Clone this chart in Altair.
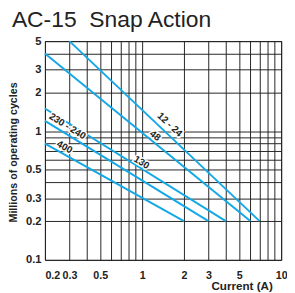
import altair as alt
import pandas as pd

series = ["12 - 24", "48", "130", "230 - 240", "400"]
x_start = [0.3, 0.2, 0.2, 0.2, 0.2]
y_start = [5.0, 4.0, 1.5, 1.2, 0.8]
x_end = [7.0, 6.0, 4.0, 3.0, 2.0]
y_end = [0.2, 0.2, 0.2, 0.2, 0.2]

label_text = ["12 - 24", "48", "130", "230 - 240", "400"]
label_x = [1.58, 1.24, 0.99, 0.29, 0.277]
label_y = [1.12, 0.92, 0.57, 1.09, 0.75]
label_angle = [43, 39, 32, 32, 29]

x_grid = [0.2, 0.3, 0.4, 0.5, 0.6, 0.7, 0.8, 0.9, 1, 2, 3, 4, 5, 6, 7, 8, 9, 10]
y_grid = [0.1, 0.2, 0.3, 0.4, 0.5, 0.6, 0.7, 0.8, 0.9, 1, 2, 3, 4, 5]
x_labels = [0.2, 0.3, 0.5, 1, 2, 3, 5, 10]
y_labels = [0.1, 0.2, 0.3, 0.5, 1, 2, 3, 5]

rows = []
for s, xs, ys, xe, ye in zip(series, x_start, y_start, x_end, y_end):
    rows.append({"s": s, "x": xs, "y": ys, "o": 0})
    rows.append({"s": s, "x": xe, "y": ye, "o": 1})
lines_df = pd.DataFrame(rows)
labels_df = pd.DataFrame({"t": label_text, "x": label_x, "y": label_y, "a": label_angle})

xl = ",".join(str(v) for v in x_labels)
yl = ",".join(str(v) for v in y_labels)

xscale = alt.Scale(type="log", domain=[0.2, 10], nice=False)
yscale = alt.Scale(type="log", domain=[0.1, 5], nice=False)

xaxis = alt.Axis(
    values=x_grid, grid=True, ticks=False, domain=False, format="~g",
    labelExpr=f"indexof([{xl}], datum.value) >= 0 ? datum.label : ''",
    labelFont="Liberation Sans", labelFontWeight="bold", labelFontSize=11, labelColor="#222",
    labelPadding=10, labelAlign={"condition": {"test": "datum.value <= 0.2", "value": "left"}, "value": "center"},
    gridColor="#222", gridOpacity=1, gridWidth=1,
    title="Current (A)", titleFont="Liberation Sans", titleFontWeight="bold", titleFontSize=12,
    titleColor="#222", titleAlign="right", titleAnchor="end", titleX=234, titleY=30, titleBaseline="alphabetic",
    labelOverlap=False,
)
yaxis = alt.Axis(
    values=y_grid, grid=True, ticks=False, domain=False, format="~g",
    labelExpr=f"indexof([{yl}], datum.value) >= 0 ? datum.label : ''",
    labelFont="Liberation Sans", labelFontWeight="bold", labelFontSize=11.5, labelColor="#222",
    labelPadding=4, labelBaseline="middle",
    gridColor="#222", gridOpacity=1, gridWidth=1,
    title="Millions of operating cycles", titleFont="Liberation Sans", titleFontWeight="bold",
    titleFontSize=11, titleColor="#222", titleAngle=-90, titleX=-32, titleY=114,
    titleAlign="center", titleBaseline="middle",
    labelOverlap=False,
)

lines = alt.Chart(lines_df).mark_line(color="#14a8e6", strokeWidth=2, clip=False).encode(
    x=alt.X("x:Q", scale=xscale, axis=xaxis),
    y=alt.Y("y:Q", scale=yscale, axis=yaxis),
    detail="s:N",
    order="o:Q",
)

halo = alt.Chart(labels_df).mark_text(
    font="Liberation Sans", fontWeight="bold", fontSize=10, stroke="white", strokeWidth=3, color="white"
).encode(
    x=alt.X("x:Q", scale=xscale), y=alt.Y("y:Q", scale=yscale), text="t:N",
    angle=alt.Angle("a:Q", scale=None),
)
texts = alt.Chart(labels_df).mark_text(
    font="Liberation Sans", fontWeight="bold", fontSize=10, color="#222"
).encode(
    x=alt.X("x:Q", scale=xscale), y=alt.Y("y:Q", scale=yscale), text="t:N",
    angle=alt.Angle("a:Q", scale=None),
)

chart = alt.layer(lines, halo, texts).properties(
    width=243, height=225,
    autosize=alt.AutoSizeParams(type="none"),
    padding={"left": 38, "top": 30, "right": 6, "bottom": 30},
    title=alt.TitleParams(
        "AC-15\u00a0\u00a0Snap Action", font="Liberation Sans", fontSize=23.5, fontWeight="normal",
        color="#222", anchor="start", frame="group", dx=-34, dy=21, offset=6, baseline="alphabetic",
    ),
).configure_view(stroke="#222", strokeWidth=1)

chart.save("out.html", embed_options={"renderer": "svg", "actions": False})
